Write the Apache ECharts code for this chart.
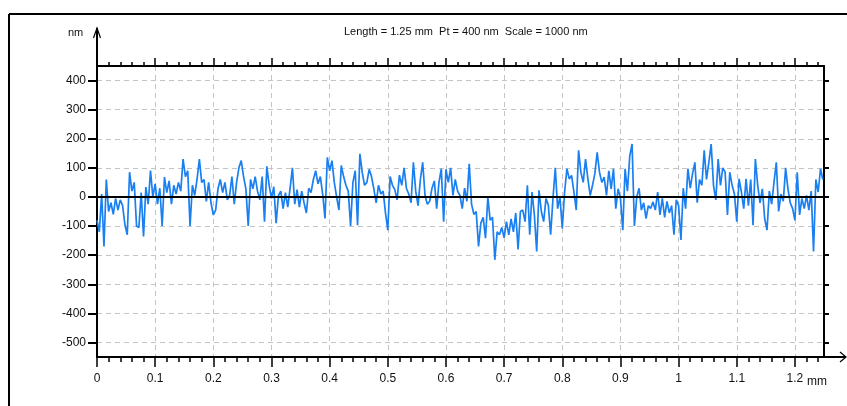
<!DOCTYPE html>
<html>
<head>
<meta charset="utf-8">
<script src="https://cdn.jsdelivr.net/npm/echarts@6/dist/echarts.min.js"></script>
<style>
  html, body { margin: 0; padding: 0; background: #fff; }
  #chart { width: 847px; height: 406px; }
</style>
</head>
<body>
<div id="chart"></div>
<script>
// profile header
const titleText = 'Length = 1.25 mm  Pt = 400 nm  Scale = 1000 nm';
const xTicks = [0, 0.1, 0.2, 0.3, 0.4, 0.5, 0.6, 0.7, 0.8, 0.9, 1, 1.1, 1.2];
const yTicks = [-500, -400, -300, -200, -100, 0, 100, 200, 300, 400];
const stepMm = 0.004; // sampling step along the trace

// height in nm, one value per step
const profileNm = [
  -80, -120, 10, -170, 60, -50, -20, -60, -5, -45,
  -10, -30, -95, -130, 85, 20, 50, -100, -105, 15,
  -136, 34, -25, 91, 0, 45, -25, 30, -100, 68,
  15, 55, -25, 40, 10, 50, 20, 130, 70, 90,
  -100, 40, 5, 60, 130, 50, 60, -15, 50, -20,
  -62, -45, 28, 60, 15, 50, -10, 5, 70, -25,
  50, 100, 125, 70, 28, -100, 60, 28, 70, 20,
  -10, 70, -85, 105, 40, -5, 35, -90, 5, 20,
  -40, 15, -35, 30, 100, -25, 25, -35, 20, -20,
  -55, 30, 15, 60, 90, 45, 70, 10, -74, 136,
  90, 125, 50, 0, -45, 108, 70, 40, 20, -100,
  50, 90, -97, 148, 85, 40, 50, 95, 70, 28,
  -20, 40, 10, 20, -55, -114, 70, 40, 25, -10,
  75, 40, 100, 30, 10, -20, 119, 20, -30, 60,
  119, 5, -25, -15, 30, 55, -40, 50, 97, -85,
  95, 50, 100, 5, 60, 20, 5, -40, 30, -15,
  114, -25, -60, -50, -170, -90, -70, -142, 0, -80,
  -70, -216, -120, -130, -105, -140, -85, -130, -75, -120,
  -55, -180, -50, -45, -85, 40, -130, 17, -62, -187,
  23, -50, -85, -5, -28, -130, -5, 100, -40, 0,
  -108, 17, 97, 62, 74, 17, -45, 160, 85, 50,
  130, 62, 5, 40, 80, 153, 85, 50, 68, 5,
  90, 28, 97, -40, 28, -5, -114, 97, 20, 140,
  182, -100, 0, 30, -45, -20, -74, -30, -40, -17,
  -45, 17, -62, -5, -70, -15, -55, -30, -130, -10,
  -30, -148, 30, -40, 97, 30, 80, 119, -20, 60,
  40, 160, 60, 119, 182, 40, -10, 130, 40, 100,
  85, -62, 85, 40, 10, -85, 62, 17, -40, 62,
  -30, 60, -97, 130, 40, -20, 28, -75, -114, 20,
  -25, 50, 119, -50, 10, -15, 100, 28, -20, -40,
  -80, 85, -62, -5, -40, 5, -45, 20, -187, 60,
  17, 97, 60
];

const font = "'Liberation Sans Narrow', 'Liberation Sans', sans-serif";
const chart = echarts.init(document.getElementById('chart'));

const points = profileNm.map((v, i) => [+(i * stepMm).toFixed(3), v]);

const gridDash = { color: '#c4c4c4', width: 1, type: [5, 4] };
const blackLine = { color: '#000', width: 2 };

var option = {
  animation: false,
  title: {
    text: titleText,
    left: 339,
    top: 21,
    textStyle: { fontFamily: font, fontSize: 11, fontWeight: 'normal', color: '#111' }
  },
  grid: { left: 97, top: 66, right: 23, bottom: 49 },
  xAxis: [{
    type: 'value', position: 'bottom', min: 0, max: 1.25, interval: 0.1,
    axisLine: { onZero: false, lineStyle: blackLine },
    axisTick: { customValues: xTicks, length: 10, lineStyle: { color: '#000', width: 1.5 } },
    minorTick: { show: true, splitNumber: 5, length: 5, lineStyle: { color: '#000', width: 1.5 } },
    axisLabel: {
      customValues: xTicks, margin: 16, fontFamily: font, fontSize: 12, color: '#111',
      formatter: v => String(Number(v.toFixed(2)))
    },
    splitLine: { show: true, lineStyle: gridDash }
  }, {
    type: 'value', position: 'top', min: 0, max: 1.25, interval: 0.1,
    axisLine: { onZero: false, lineStyle: blackLine },
    axisTick: { customValues: xTicks, length: 8, lineStyle: { color: '#000', width: 1.5 } },
    minorTick: { show: true, splitNumber: 5, length: 4, lineStyle: { color: '#000', width: 1.5 } },
    axisLabel: { show: false },
    splitLine: { show: false }
  }],
  yAxis: [{
    type: 'value', position: 'left', min: -550, max: 450,
    axisLine: { onZero: false, lineStyle: blackLine },
    axisTick: { customValues: yTicks, length: 9, lineStyle: { color: '#000', width: 2 } },
    axisLabel: { customValues: yTicks, margin: 11, fontFamily: font, fontSize: 12, color: '#111' },
    splitLine: { show: true, lineStyle: gridDash }
  }, {
    type: 'value', position: 'right', min: -550, max: 450,
    axisLine: { onZero: false, lineStyle: blackLine },
    axisTick: { customValues: yTicks, length: 5, lineStyle: { color: '#000', width: 2 } },
    axisLabel: { show: false },
    splitLine: { show: false }
  }],
  series: [{
    type: 'line',
    data: points,
    showSymbol: false,
    symbol: 'none',
    silent: true,
    lineStyle: { color: '#1a7ff0', width: 1.7 },
    itemStyle: { color: '#1a7ff0' },
    markLine: {
      symbol: 'none', silent: true, label: { show: false },
      lineStyle: { color: '#000', width: 2, type: 'solid' },
      data: [{ yAxis: 0 }]
    }
  }],
  graphic: [
    // outer frame
    { type: 'line', shape: { x1: 9, y1: 14, x2: 847, y2: 14 }, style: { stroke: '#000', lineWidth: 2 } },
    { type: 'line', shape: { x1: 9, y1: 14, x2: 9, y2: 406 }, style: { stroke: '#000', lineWidth: 2 } },
    // axis arrows
    { type: 'line', shape: { x1: 97, y1: 66, x2: 97, y2: 28 }, style: { stroke: '#000', lineWidth: 2 } },
    { type: 'polyline', shape: { points: [[93.5, 38], [97, 28], [100.5, 38]] }, style: { stroke: '#000', lineWidth: 1.2, fill: null } },
    { type: 'line', shape: { x1: 824, y1: 357, x2: 846, y2: 357 }, style: { stroke: '#000', lineWidth: 2 } },
    { type: 'polyline', shape: { points: [[840, 352], [846, 357], [840, 362]] }, style: { stroke: '#000', lineWidth: 1.2, fill: null } },
    // units
    { type: 'text', x: 68, y: 27, style: { text: 'nm', font: '11px ' + font, fill: '#111' } },
    { type: 'text', x: 807, y: 376, style: { text: 'mm', font: '12px ' + font, fill: '#111' } }
  ]
};

chart.setOption(option);
</script>
</body>
</html>
